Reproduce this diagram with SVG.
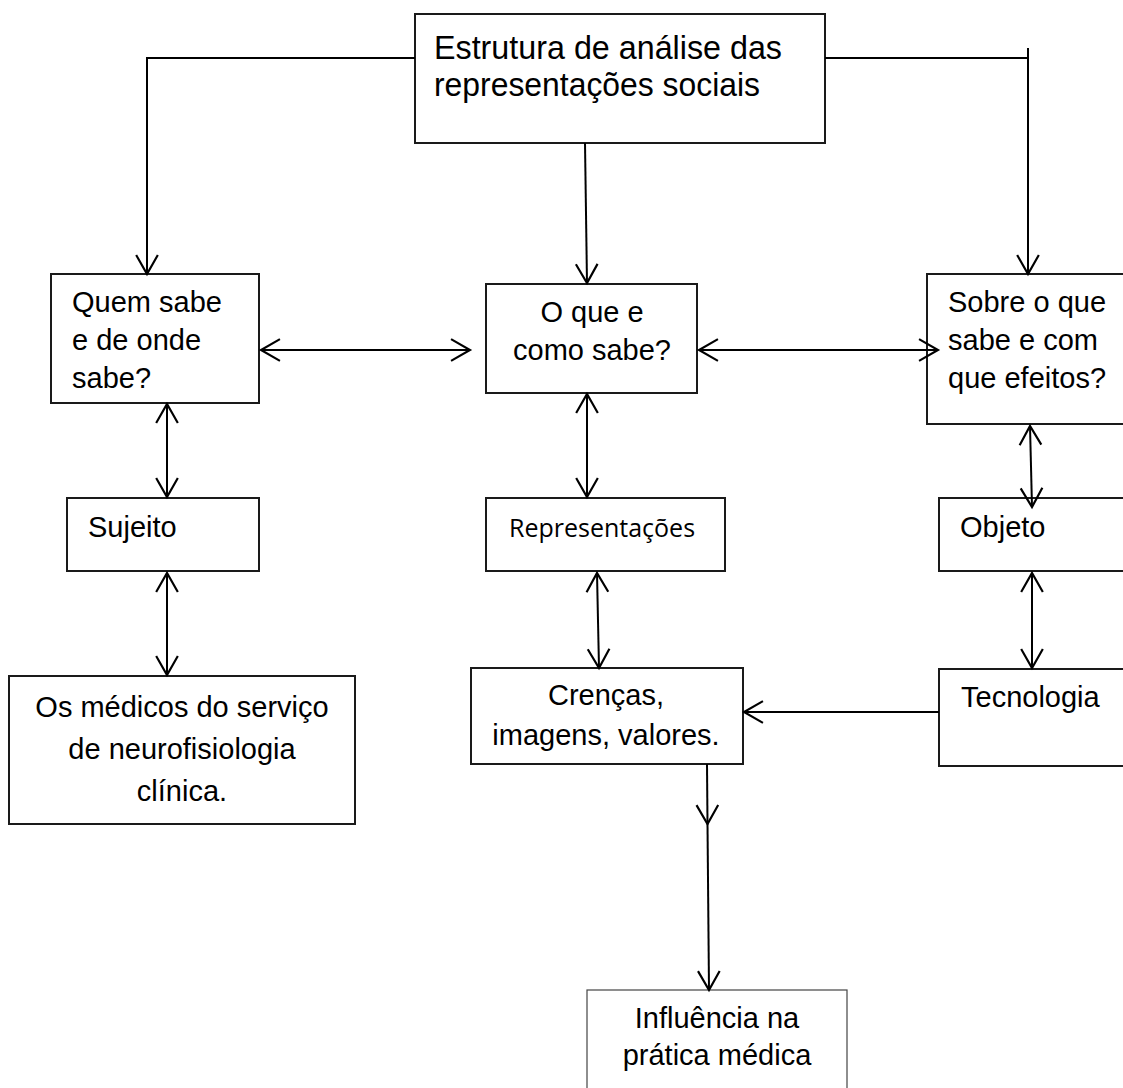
<svg xmlns="http://www.w3.org/2000/svg" width="1123" height="1088" viewBox="0 0 1123 1088">
<style>
.box{fill:#fff;stroke:#1a1a1a;stroke-width:2}
.thin{fill:#fff;stroke:#444;stroke-width:1.2}
.t{font-family:"Liberation Sans",Arial,sans-serif;font-size:29px;fill:#000}
.tc{text-anchor:middle}
.big{font-size:33px}
.rep{font-family:"Open Sans","Noto Sans",sans-serif;font-size:25px;fill:#000}
.ln{fill:none;stroke:#000;stroke-width:2}
</style>
<defs>
<marker id="ah" markerUnits="userSpaceOnUse" markerWidth="24" markerHeight="26" viewBox="-19 -12 22 24" refX="0" refY="0" orient="auto-start-reverse">
<path d="M-17.5,-10 L0,0 L-17.5,10" fill="none" stroke="#000" stroke-width="2"/>
</marker>
</defs>

<g id="n-top">
<rect class="box" x="415" y="14" width="410" height="129"/>
<text class="t big" x="434" y="59" textLength="348" lengthAdjust="spacingAndGlyphs">Estrutura de análise das</text>
<text class="t big" x="434" y="96" textLength="326" lengthAdjust="spacingAndGlyphs">representações sociais</text>
</g>

<g id="n-quem">
<rect class="box" x="51" y="274" width="208" height="129"/>
<text class="t" x="72" y="312">Quem sabe</text>
<text class="t" x="72" y="350">e de onde</text>
<text class="t" x="72" y="388">sabe?</text>
</g>

<g id="n-oque">
<rect class="box" x="486" y="284" width="211" height="109"/>
<text class="t tc" x="592" y="322">O que e</text>
<text class="t tc" x="592" y="360">como sabe?</text>
</g>

<g id="n-sobre">
<rect class="box" x="927" y="274" width="210" height="150"/>
<text class="t" x="948" y="312">Sobre o que</text>
<text class="t" x="948" y="350">sabe e com</text>
<text class="t" x="948" y="388">que efeitos?</text>
</g>

<g id="n-sujeito">
<rect class="box" x="67" y="498" width="192" height="73"/>
<text class="t" x="88" y="537">Sujeito</text>
</g>

<g id="n-rep">
<rect class="box" x="486" y="498" width="239" height="73"/>
<text class="rep" x="509" y="537">Representações</text>
</g>

<g id="n-objeto">
<rect class="box" x="939" y="498" width="200" height="73"/>
<text class="t" x="960" y="537">Objeto</text>
</g>

<g id="n-medicos">
<rect class="box" x="9" y="676" width="346" height="148"/>
<text class="t tc" x="182" y="717">Os médicos do serviço</text>
<text class="t tc" x="182" y="759">de neurofisiologia</text>
<text class="t tc" x="182" y="801">clínica.</text>
</g>

<g id="n-crencas">
<rect class="box" x="471" y="668" width="272" height="96"/>
<text class="t tc" x="606" y="705">Crenças,</text>
<text class="t tc" x="606" y="745">imagens, valores.</text>
</g>

<g id="n-tec">
<rect class="box" x="939" y="669" width="200" height="97"/>
<text class="t" x="961" y="707">Tecnologia</text>
</g>

<g id="n-influencia">
<rect class="thin" x="587" y="990" width="260" height="110"/>
<text class="t tc" x="717" y="1028">Influência na</text>
<text class="t tc" x="717" y="1065">prática médica</text>
</g>

<g id="connectors">
<path class="ln" d="M415,58 H147 V274" marker-end="url(#ah)"/>
<path class="ln" d="M825,58 H1028"/>
<path class="ln" d="M1028,48 V274" marker-end="url(#ah)"/>
<path class="ln" d="M585,143 L587,283" marker-end="url(#ah)"/>
<path class="ln" d="M261,350 H470" marker-start="url(#ah)" marker-end="url(#ah)"/>
<path class="ln" d="M699,350 H938" marker-start="url(#ah)" marker-end="url(#ah)"/>
<path class="ln" d="M167,404 V497" marker-start="url(#ah)" marker-end="url(#ah)"/>
<path class="ln" d="M587,394 V497" marker-start="url(#ah)" marker-end="url(#ah)"/>
<path class="ln" d="M1030,426 L1032,507" marker-start="url(#ah)" marker-end="url(#ah)"/>
<path class="ln" d="M167,573 V675" marker-start="url(#ah)" marker-end="url(#ah)"/>
<path class="ln" d="M597,573 L599,668" marker-start="url(#ah)" marker-end="url(#ah)"/>
<path class="ln" d="M1032,573 V668" marker-start="url(#ah)" marker-end="url(#ah)"/>
<path class="ln" d="M939,712 H744" marker-end="url(#ah)"/>
<path class="ln" d="M707,764 L707.5,824" marker-end="url(#ah)"/>
<path class="ln" d="M707.5,824 L709,990" marker-end="url(#ah)"/>
</g>
</svg>
